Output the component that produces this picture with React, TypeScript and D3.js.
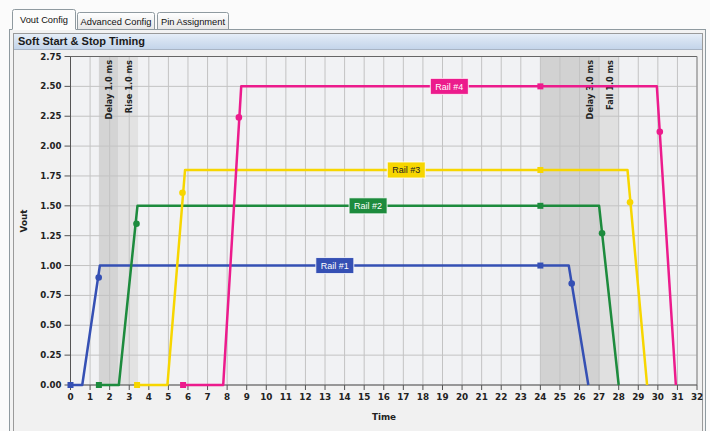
import React from "react";
import * as d3 from "d3";

// ---------- data ----------
const yTickValues = [0, 0.25, 0.5, 0.75, 1.0, 1.25, 1.5, 1.75, 2.0, 2.25, 2.5, 2.75];
const xTickValues = [0, 1, 2, 3, 4, 5, 6, 7, 8, 9, 10, 11, 12, 13, 14, 15, 16, 17, 18, 19, 20, 21, 22, 23, 24, 25, 26, 27, 28, 29, 30, 31, 32];

const railNames = ["Rail #1", "Rail #2", "Rail #3", "Rail #4"];
const rail1Time = [0, 0.6, 1.5, 25.45, 26.45];
const rail1Vout = [0, 0, 1.0, 1.0, 0];
const rail2Time = [1.45, 2.47, 3.42, 27.0, 28.0];
const rail2Vout = [0, 0, 1.5, 1.5, 0];
const rail3Time = [3.4, 4.95, 5.85, 28.45, 29.45];
const rail3Vout = [0, 0, 1.8, 1.8, 0];
const rail4Time = [5.75, 7.8, 8.72, 29.95, 30.92];
const rail4Vout = [0, 0, 2.5, 2.5, 0];

const railStartMarkTime = [0, 1.45, 3.4, 5.75];
const railHoldMarkTime = [24, 24, 24, 24];
const railRiseMarkTime = [1.44, 3.37, 5.72, 8.6];
const railRiseMarkVout = [0.9, 1.35, 1.61, 2.24];
const railFallMarkTime = [25.6, 27.15, 28.58, 30.1];
const railFallMarkVout = [0.85, 1.27, 1.53, 2.12];
const railLabelTime = [13.5, 15.2, 17.15, 19.35];

const bandStart = [1.45, 2.45, 24, 27];
const bandEnd = [2.45, 3.45, 27, 28];
const bandLabels = ["Delay 1.0 ms", "Rise 1.0 ms", "Delay 3.0 ms", "Fall 1.0 ms"];

const tabNames = ["Vout Config", "Advanced Config", "Pin Assignment"];

// ---------- styles ----------
const railColors = ["#3550b4", "#1d8b3d", "#f7d600", "#ec1b8c"];
const railTextColors = ["#ffffff", "#ffffff", "#222222", "#ffffff"];
const bandColors = ["#d4d4d4", "#e2e2e2", "#d2d2d2", "#e0e0e0"];

const W = 710;
const H = 431;
const x = d3.scaleLinear().domain([0, 32]).range([70.5, 697]);
const y = d3.scaleLinear().domain([0, 2.75]).range([385, 56.5]);

const tickFont = "DejaVu Sans, Verdana, sans-serif";
const uiFont = "Liberation Sans, Arial, sans-serif";

const railTimes = [rail1Time, rail2Time, rail3Time, rail4Time];
const railVouts = [rail1Vout, rail2Vout, rail3Vout, rail4Vout];

export default function App() {
  const line = d3
    .line<[number, number]>()
    .x((d) => x(d[0]))
    .y((d) => y(d[1]));

  const tabX = [12, 77, 157];
  const tabW = [64, 78, 72];

  return (
    <svg width={W} height={H} style={{ display: "block", position: "absolute", left: 0, top: 0 }}>
      <defs>
        <linearGradient id="titleGrad" x1="0" y1="0" x2="0" y2="1">
          <stop offset="0" stopColor="#e6eef8" />
          <stop offset="0.5" stopColor="#d3e0f0" />
          <stop offset="1" stopColor="#c4d5ea" />
        </linearGradient>
        <linearGradient id="tabGrad" x1="0" y1="0" x2="0" y2="1">
          <stop offset="0" stopColor="#ffffff" />
          <stop offset="1" stopColor="#e6e6e6" />
        </linearGradient>
      </defs>
      <rect x={0} y={0} width={W} height={H} fill="#fbfbfb" />

      {/* tabs */}
      {tabNames.map((t, i) => {
        const sel = i === 0;
        const top = sel ? 9.5 : 12.5;
        return (
          <g key={t}>
            <path
              d={`M${tabX[i] + 0.5},30 L${tabX[i] + 0.5},${top + 2} Q${tabX[i] + 0.5},${top} ${tabX[i] + 2.5},${top} L${tabX[i] + tabW[i] - 2.5},${top} Q${tabX[i] + tabW[i] - 0.5},${top} ${tabX[i] + tabW[i] - 0.5},${top + 2} L${tabX[i] + tabW[i] - 0.5},30`}
              fill={sel ? "#fcfcfc" : "url(#tabGrad)"}
              stroke="#8f9aa0"
            />
            <text
              x={tabX[i] + tabW[i] / 2}
              y={sel ? 23 : 24.5}
              textAnchor="middle"
              fontFamily={uiFont}
              fontSize={9.3}
              fill="#111"
            >
              {t}
            </text>
          </g>
        );
      })}

      {/* panel */}
      <rect x={9.5} y={29.5} width={696} height={420} fill="#f3f3f3" stroke="#8f9aa0" />
      <rect x={76.5} y={29} width={0} height={1} />
      <line x1={12.5} x2={75.5} y1={29.5} y2={29.5} stroke="#fcfcfc" />
      <rect x={13.5} y={33.5} width={689} height={420} fill="#f1f1f1" stroke="#9a9a9a" />
      <rect x={14} y={34} width={688} height={15} fill="url(#titleGrad)" />
      <line x1={14} x2={702} y1={49.5} y2={49.5} stroke="#a8b4c4" />
      <text x={18} y={45} fontFamily={uiFont} fontSize={11} fontWeight="bold" fill="#1a1a1a">
        Soft Start &amp; Stop Timing
      </text>

      {/* plot background */}
      <rect x={x(0)} y={y(2.75)} width={x(32) - x(0)} height={y(0) - y(2.75)} fill="#f1f2f4" />

      {/* shaded bands */}
      {bandStart.map((s, i) => (
        <rect
          key={"band" + i}
          x={x(s)}
          y={y(2.75)}
          width={x(bandEnd[i]) - x(s)}
          height={y(0) - y(2.75)}
          fill={bandColors[i]}
        />
      ))}

      {/* grid */}
      {xTickValues.map((v) => (
        <line key={"gx" + v} x1={x(v)} x2={x(v)} y1={y(2.75)} y2={y(0)} stroke="#c3c3c3" strokeWidth={1} />
      ))}
      {yTickValues.map((v) => (
        <line key={"gy" + v} x1={x(0)} x2={x(32)} y1={y(v)} y2={y(v)} stroke="#c3c3c3" strokeWidth={1} />
      ))}

      {/* band labels */}
      {bandLabels.map((l, i) => {
        const bx = x(bandEnd[i]) - 6;
        const by = 60;
        return (
          <text
            key={"bl" + i}
            transform={`translate(${bx},${by}) rotate(-90)`}
            textAnchor="end"
            fontFamily={tickFont}
            fontSize={8.2}
            fontWeight="bold"
            fill="#222"
          >
            {l}
          </text>
        );
      })}

      {/* frame */}
      <line x1={x(0)} x2={x(32)} y1={y(2.75)} y2={y(2.75)} stroke="#666" />
      <line x1={x(32)} x2={x(32)} y1={y(2.75)} y2={y(0)} stroke="#888" />
      <line x1={x(0)} x2={x(0)} y1={y(2.75)} y2={y(0)} stroke="#555" />
      <line x1={x(0)} x2={x(32)} y1={y(0)} y2={y(0)} stroke="#555" />

      {/* ticks */}
      {yTickValues.map((v) => (
        <g key={"yt" + v}>
          <line x1={x(0) - 6} x2={x(0)} y1={y(v)} y2={y(v)} stroke="#555" />
          <text
            x={x(0) - 9}
            y={y(v) + 3}
            textAnchor="end"
            fontFamily={tickFont}
            fontSize={8.6}
            fontWeight="bold"
            fill="#222"
          >
            {v.toFixed(2)}
          </text>
        </g>
      ))}
      {xTickValues.map((v) => (
        <g key={"xt" + v}>
          <line x1={x(v)} x2={x(v)} y1={y(0)} y2={y(0) + 5} stroke="#555" />
          <text
            x={x(v)}
            y={y(0) + 15}
            textAnchor="middle"
            fontFamily={tickFont}
            fontSize={8.8}
            fontWeight="bold"
            fill="#222"
          >
            {v}
          </text>
        </g>
      ))}

      {/* axis titles */}
      <text
        transform={`translate(27,221) rotate(-90)`}
        textAnchor="middle"
        fontFamily={tickFont}
        fontSize={8.8}
        fontWeight="bold"
        fill="#222"
      >
        Vout
      </text>
      <text x={384} y={420} textAnchor="middle" fontFamily={tickFont} fontSize={8.8} fontWeight="bold" fill="#222">
        Time
      </text>

      {/* rails */}
      {railNames.map((name, i) => {
        const pts = railTimes[i].map((t, k) => [t, railVouts[i][k]] as [number, number]);
        const level = d3.max(railVouts[i]) as number;
        const c = railColors[i];
        return (
          <g key={name}>
            <path d={line(pts) || ""} fill="none" stroke={c} strokeWidth={2.5} strokeLinejoin="round" />
            <rect x={x(railStartMarkTime[i]) - 3} y={y(0) - 3} width={6} height={6} fill={c} />
            <rect x={x(railHoldMarkTime[i]) - 3} y={y(level) - 3} width={6} height={6} fill={c} />
            <circle cx={x(railRiseMarkTime[i])} cy={y(railRiseMarkVout[i])} r={3.3} fill={c} />
            <circle cx={x(railFallMarkTime[i])} cy={y(railFallMarkVout[i])} r={3.3} fill={c} />
          </g>
        );
      })}

      {/* rail labels */}
      {railNames.map((name, i) => {
        const level = d3.max(railVouts[i]) as number;
        const cx = x(railLabelTime[i]);
        const cy = y(level);
        return (
          <g key={"lab" + name}>
            <rect
              x={cx - 19}
              y={cy - 8}
              width={38}
              height={16}
              fill={railColors[i]}
              stroke="#ffffff"
              strokeOpacity={0.8}
              strokeWidth={1}
            />
            <text
              x={cx}
              y={cy + 3.2}
              textAnchor="middle"
              fontFamily={uiFont}
              fontSize={9}
              fill={railTextColors[i]}
            >
              {name}
            </text>
          </g>
        );
      })}
    </svg>
  );
}
